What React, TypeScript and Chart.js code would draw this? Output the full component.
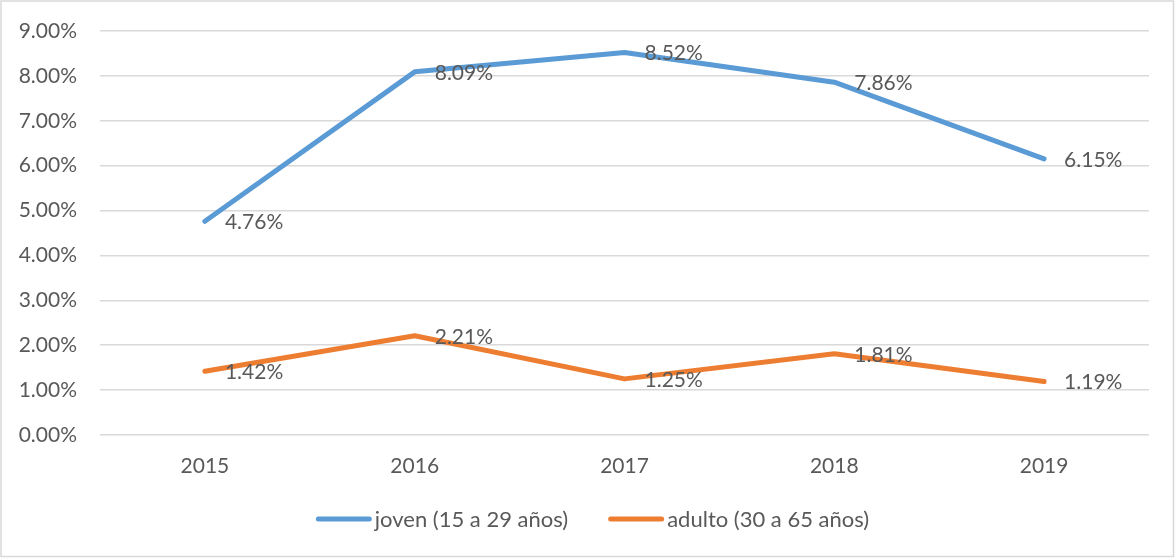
import React, { useEffect, useRef } from "react";
import { Chart, registerables } from "chart.js";

Chart.register(...registerables);

const categories = ["2015", "2016", "2017", "2018", "2019"];
const jovenValues = [4.76, 8.09, 8.52, 7.86, 6.15];
const adultoValues = [1.42, 2.21, 1.25, 1.81, 1.19];
const seriesNames = ["joven (15 a 29 años)", "adulto (30 a 65 años)"];

const FONT = "Lato, 'Open Sans', sans-serif";
const TEXT = "#595959";

const dataLabelPlugin = {
  id: "dataLabels",
  afterDatasetsDraw(chart: any) {
    const ctx = chart.ctx;
    ctx.save();
    ctx.font = `21px ${FONT}`;
    ctx.fillStyle = TEXT;
    ctx.textAlign = "left";
    ctx.textBaseline = "middle";
    chart.data.datasets.forEach((ds: any, i: number) => {
      const meta = chart.getDatasetMeta(i);
      meta.data.forEach((pt: any, j: number) => {
        const v = ds.data[j] as number;
        ctx.fillText(v.toFixed(2) + "%", pt.x + 20, pt.y + 1);
      });
    });
    ctx.restore();
  },
};

const legendPlugin = {
  id: "customLegend",
  afterDraw(chart: any) {
    const ctx = chart.ctx;
    ctx.save();
    ctx.font = `22px ${FONT}`;
    const lineLen = 56;
    const gap = 3;
    const spacing = 40;
    const items = chart.data.datasets.map((ds: any) => ({
      text: ds.label as string,
      color: ds.borderColor as string,
      w: ctx.measureText(ds.label).width,
    }));
    let total = 0;
    items.forEach((it: any, i: number) => {
      total += lineLen + gap + it.w + (i < items.length - 1 ? spacing : 0);
    });
    let x = (chart.width - total) / 2 + 5;
    const y = 519;
    ctx.textBaseline = "middle";
    ctx.textAlign = "left";
    items.forEach((it: any) => {
      ctx.strokeStyle = it.color;
      ctx.lineWidth = 5;
      ctx.lineCap = "round";
      ctx.beginPath();
      ctx.moveTo(x + 2.5, y);
      ctx.lineTo(x + lineLen - 2.5, y);
      ctx.stroke();
      ctx.fillStyle = TEXT;
      ctx.fillText(it.text, x + lineLen + gap, y + 1);
      x += lineLen + gap + it.w + spacing;
    });
    ctx.restore();
  },
};

const framePlugin = {
  id: "frame",
  beforeDraw(chart: any) {
    const ctx = chart.ctx;
    ctx.save();
    ctx.fillStyle = "#ffffff";
    ctx.fillRect(0, 0, chart.width, chart.height);
    ctx.strokeStyle = "#d9d9d9";
    ctx.lineWidth = 1.5;
    ctx.strokeRect(1, 1, chart.width - 2.5, chart.height - 2.5);
    ctx.restore();
  },
};

export default function App() {
  const ref = useRef<HTMLCanvasElement | null>(null);

  useEffect(() => {
    document.body.style.margin = "0";
    if (!ref.current) return;
    const chart = new Chart(ref.current, {
      type: "line",
      data: {
        labels: categories,
        datasets: [
          {
            label: seriesNames[0],
            data: jovenValues,
            borderColor: "#5B9BD5",
            backgroundColor: "#5B9BD5",
            borderWidth: 5,
            pointRadius: 0,
            borderCapStyle: "round",
            borderJoinStyle: "round",
            tension: 0,
          },
          {
            label: seriesNames[1],
            data: adultoValues,
            borderColor: "#ED7D31",
            backgroundColor: "#ED7D31",
            borderWidth: 5,
            pointRadius: 0,
            borderCapStyle: "round",
            borderJoinStyle: "round",
            tension: 0,
          },
        ],
      },
      options: {
        responsive: false,
        animation: false,
        layout: { padding: { top: 31, right: 26, bottom: 59.5, left: 0 } },
        scales: {
          x: {
            offset: true,
            grid: { display: false, drawTicks: false },
            border: { display: false },
            ticks: { color: TEXT, font: { family: FONT, size: 21 }, padding: 19 },
            afterFit: (scale: any) => {
              scale.height = 63.5;
            },
          },
          y: {
            min: 0,
            max: 9,
            grid: { color: "#d9d9d9", lineWidth: 1.5, drawTicks: false },
            border: { display: false },
            ticks: {
              stepSize: 1,
              color: TEXT,
              font: { family: FONT, size: 21 },
              padding: 23,
              callback: (v: any) => Number(v).toFixed(2) + "%",
            },
            afterFit: (scale: any) => {
              scale.width = 100;
              scale.paddingTop = 0;
              scale.paddingBottom = 0;
            },
          },
        },
        plugins: {
          legend: { display: false },
          tooltip: { enabled: false },
        },
      },
      plugins: [framePlugin, dataLabelPlugin, legendPlugin],
    });
    return () => chart.destroy();
  }, []);

  return (
    <div style={{ position: "absolute", left: 0, top: 0, width: 1175, height: 558 }}>
      <canvas ref={ref} width={1175} height={558} />
    </div>
  );
}
